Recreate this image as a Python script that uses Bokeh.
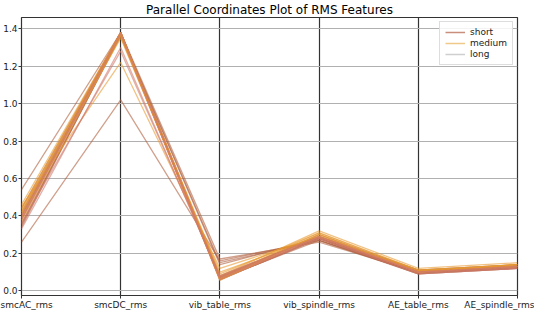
from bokeh.plotting import figure
from bokeh.models import Range1d, FixedTicker, PrintfTickFormatter, Legend
from bokeh.embed import file_html
from bokeh.resources import INLINE

features = ["smcAC_rms", "smcDC_rms", "vib_table_rms", "vib_spindle_rms", "AE_table_rms", "AE_spindle_rms"]
y_ticks = [0.0, 0.2, 0.4, 0.6, 0.8, 1.0, 1.2, 1.4]

short_rows = [
    [0.26, 1.02, 0.16, 0.27, 0.09, 0.12],
    [0.54, 1.38, 0.17, 0.26, 0.10, 0.13],
    [0.38, 1.38, 0.07, 0.28, 0.10, 0.13],
    [0.40, 1.37, 0.06, 0.28, 0.09, 0.12],
    [0.35, 1.37, 0.15, 0.27, 0.10, 0.12],
    [0.42, 1.38, 0.08, 0.29, 0.11, 0.14],
    [0.36, 1.36, 0.065, 0.27, 0.095, 0.125],
    [0.44, 1.38, 0.07, 0.30, 0.11, 0.14],
    [0.34, 1.37, 0.14, 0.28, 0.10, 0.13],
    [0.39, 1.38, 0.06, 0.28, 0.10, 0.13],
    [0.41, 1.37, 0.075, 0.29, 0.105, 0.135],
]
medium_rows = [
    [0.45, 1.22, 0.12, 0.29, 0.10, 0.13],
    [0.41, 1.37, 0.07, 0.31, 0.11, 0.14],
    [0.43, 1.38, 0.065, 0.30, 0.10, 0.14],
    [0.37, 1.36, 0.10, 0.29, 0.11, 0.13],
    [0.46, 1.38, 0.08, 0.32, 0.12, 0.15],
    [0.39, 1.37, 0.055, 0.30, 0.10, 0.14],
    [0.42, 1.35, 0.09, 0.31, 0.11, 0.14],
    [0.44, 1.37, 0.06, 0.29, 0.10, 0.13],
]
long_rows = [
    [0.33, 1.30, 0.07, 0.28, 0.10, 0.12],
    [0.36, 1.28, 0.08, 0.29, 0.10, 0.13],
    [0.40, 1.38, 0.06, 0.28, 0.09, 0.12],
    [0.38, 1.37, 0.07, 0.29, 0.10, 0.13],
]

classes = ["short", "medium", "long"]
class_rows = [short_rows, medium_rows, long_rows]
class_colors = ["#b0603f", "#e89a30", "#d07a6a"]
legend_colors = ["#c98f7c", "#efc987", "#cfcfcf"]

FONT = "DejaVu Sans"

p = figure(width=534, height=312, output_backend="svg", toolbar_location=None,
           x_range=Range1d(0, len(features) - 1), y_range=Range1d(-0.025, 1.46),
           title="Parallel Coordinates Plot of RMS Features",
           min_border_left=20, min_border_right=17, min_border_top=0, min_border_bottom=0)

p.title.align = "center"
p.title.text_font = FONT
p.title.text_font_size = "12px"
p.title.text_font_style = "normal"
p.title.text_color = "#000000"
p.title.standoff = 1

xs_idx = list(range(len(features)))
for rows, col in zip(class_rows, class_colors):
    p.multi_line(xs=[xs_idx] * len(rows), ys=rows, line_color=col, line_alpha=0.6, line_width=1.3)

# legend glyphs (invisible data)
items = []
for name, col in zip(classes, legend_colors):
    r = p.line(x=[0, 0], y=[-1, -1], line_color=col, line_width=1.5)
    items.append((name, [r]))

legend = Legend(items=items, location="top_right")
legend.label_text_font = FONT
legend.label_text_font_size = "9px"
legend.label_text_color = "#222222"
legend.glyph_width = 20
legend.glyph_height = 10
legend.label_height = 10
legend.spacing = 1
legend.padding = 5
legend.margin = 4
legend.border_line_color = "#dddddd"
legend.border_line_alpha = 1
legend.background_fill_alpha = 0.85
p.add_layout(legend)

p.xaxis.ticker = FixedTicker(ticks=xs_idx)
p.xaxis.major_label_overrides = {i: f for i, f in enumerate(features)}
p.yaxis.ticker = FixedTicker(ticks=y_ticks)
p.yaxis.formatter = PrintfTickFormatter(format="%.1f")

for ax in (p.xaxis[0], p.yaxis[0]):
    ax.major_label_text_font = FONT
    ax.major_label_text_font_size = "9px"
    ax.major_label_text_color = "#222222"
    ax.axis_line_color = None
    ax.major_tick_line_color = "#333333"
    ax.major_tick_out = 3
    ax.major_tick_in = 0
    ax.minor_tick_line_color = None
    ax.major_label_standoff = 1
    ax.axis_label = None
    ax.axis_label_standoff = 0
    ax.axis_label_text_font_size = "0px"

p.xgrid.ticker = FixedTicker(ticks=xs_idx)
p.xgrid.grid_line_color = "#333333"
p.xgrid.grid_line_width = 1.2
p.ygrid.ticker = FixedTicker(ticks=y_ticks)
p.ygrid.grid_line_color = "#b0b0b0"
p.ygrid.grid_line_width = 1
p.outline_line_color = "#333333"
p.outline_line_width = 1.2
p.background_fill_color = "white"
p.border_fill_color = "white"

open("out.html", "w").write(file_html(p, INLINE))
